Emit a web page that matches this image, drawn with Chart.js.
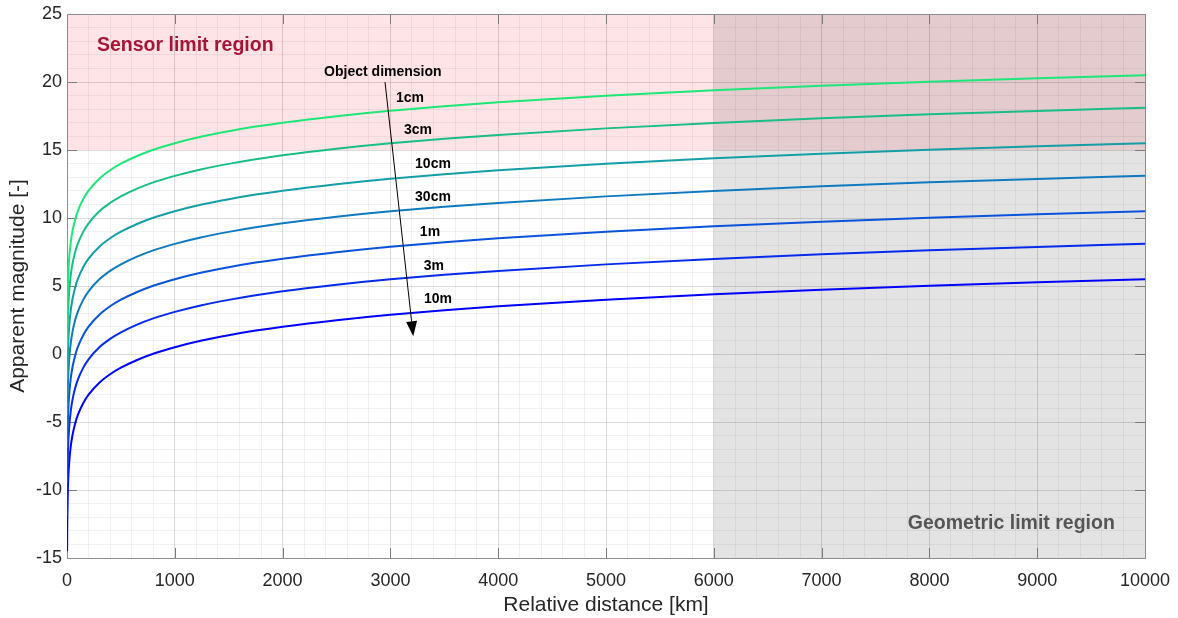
<!DOCTYPE html>
<html>
<head>
<meta charset="utf-8">
<style>
  html, body { margin: 0; padding: 0; background: #fff; }
  #wrap { width: 1178px; height: 618px; }
</style>
</head>
<body>
<div id="wrap"><canvas id="grafico"></canvas></div>

<script src="https://cdn.jsdelivr.net/npm/chart.js"></script>
<script>
  // distancias relativas [km] e magnitudes aparentes
  const distancias = [1, 2, 4, 7, 12, 20, 35, 50, 75, 100, 150, 200, 300, 400, 500, 650, 800, 1000, 1250, 1500, 1750, 2000, 2500, 3000, 3500, 4000, 5000, 6000, 7000, 8000, 9000, 10000];
  const dimensoes = ["1cm", "3cm", "10cm", "30cm", "1m", "3m", "10m"];
  const mag1cm  = [0.5, 2.01, 3.51, 4.73, 5.90, 7.01, 8.22, 8.99, 9.88, 10.5, 11.38, 12.01, 12.89, 13.51, 13.99, 14.56, 15.02, 15.5, 15.99, 16.38, 16.72, 17.01, 17.49, 17.89, 18.22, 18.51, 18.99, 19.39, 19.73, 20.02, 20.27, 20.5];
  const mag3cm  = [-1.9, -0.39, 1.11, 2.33, 3.50, 4.61, 5.82, 6.59, 7.48, 8.1, 8.98, 9.61, 10.49, 11.11, 11.59, 12.16, 12.62, 13.1, 13.59, 13.98, 14.32, 14.61, 15.09, 15.49, 15.82, 16.11, 16.59, 16.99, 17.33, 17.62, 17.87, 18.1];
  const mag10cm = [-4.5, -2.99, -1.49, -0.27, 0.90, 2.01, 3.22, 3.99, 4.88, 5.5, 6.38, 7.01, 7.89, 8.51, 8.99, 9.56, 10.02, 10.5, 10.99, 11.38, 11.72, 12.01, 12.49, 12.89, 13.22, 13.51, 13.99, 14.39, 14.73, 15.02, 15.27, 15.5];
  const mag30cm = [-6.9, -5.39, -3.89, -2.67, -1.50, -0.39, 0.82, 1.59, 2.48, 3.1, 3.98, 4.61, 5.49, 6.11, 6.59, 7.16, 7.62, 8.1, 8.59, 8.98, 9.32, 9.61, 10.09, 10.49, 10.82, 11.11, 11.59, 11.99, 12.33, 12.62, 12.87, 13.1];
  const mag1m   = [-9.5, -7.99, -6.49, -5.27, -4.10, -2.99, -1.78, -1.01, -0.12, 0.5, 1.38, 2.01, 2.89, 3.51, 3.99, 4.56, 5.02, 5.5, 5.99, 6.38, 6.72, 7.01, 7.49, 7.89, 8.22, 8.51, 8.99, 9.39, 9.73, 10.02, 10.27, 10.5];
  const mag3m   = [-11.9, -10.39, -8.89, -7.67, -6.50, -5.39, -4.18, -3.41, -2.52, -1.9, -1.02, -0.39, 0.49, 1.11, 1.59, 2.16, 2.62, 3.1, 3.59, 3.98, 4.32, 4.61, 5.09, 5.49, 5.82, 6.11, 6.59, 6.99, 7.33, 7.62, 7.87, 8.1];
  const mag10m  = [-14.5, -12.99, -11.49, -10.27, -9.10, -7.99, -6.78, -6.01, -5.12, -4.5, -3.62, -2.99, -2.11, -1.49, -1.01, -0.44, 0.02, 0.5, 0.99, 1.38, 1.72, 2.01, 2.49, 2.89, 3.22, 3.51, 3.99, 4.39, 4.73, 5.02, 5.27, 5.5];
  const series = [mag1cm, mag3cm, mag10cm, mag30cm, mag1m, mag3m, mag10m];

  // regioes limite
  const limiteSensor = 15;       // magnitude acima da qual o sensor nao ve
  const limiteGeometrico = 6000; // distancia [km]

  const cores = ["rgb(30,230,120)", "rgb(25,190,135)", "rgb(20,158,165)", "rgb(15,122,192)", "rgb(10,82,218)", "rgb(5,42,236)", "rgb(0,0,255)"];

  // posicoes dos rotulos (em coordenadas de dados)
  const rotulos = [
    { x: 3182, y: 18.8 }, { x: 3256, y: 16.45 }, { x: 3395, y: 13.95 }, { x: 3395, y: 11.5 },
    { x: 3367, y: 8.95 }, { x: 3404, y: 6.45 }, { x: 3442, y: 4.0 }
  ];

  const FONTE = "'Liberation Sans', Arial, sans-serif";
  const ctx = document.getElementById("grafico").getContext("2d");

  const regioes = {
    id: "regioes",
    beforeDraw(chart) {
      const { ctx, chartArea: a, scales: { x, y } } = chart;
      ctx.save();
      ctx.fillStyle = "rgba(255,40,60,0.125)";
      const yS = y.getPixelForValue(limiteSensor);
      ctx.fillRect(a.left, a.top, a.right - a.left, yS - a.top);
      ctx.fillStyle = "rgba(0,0,0,0.11)";
      const xG = x.getPixelForValue(limiteGeometrico);
      ctx.fillRect(xG, a.top, a.right - xG, a.bottom - a.top);
      ctx.restore();
    },
    beforeDatasetsDraw(chart) {
      const { ctx, chartArea: a, scales: { x, y } } = chart;
      ctx.save();
      ctx.strokeStyle = "#7a7a7a";
      ctx.lineWidth = 1;
      ctx.beginPath();
      x.ticks.filter(t => t.value % 1000 === 0).forEach(t => {
        const px = Math.round(x.getPixelForValue(t.value)) + 0.5;
        ctx.moveTo(px, a.bottom); ctx.lineTo(px, a.bottom - 10);
        ctx.moveTo(px, a.top); ctx.lineTo(px, a.top + 10);
      });
      y.ticks.filter(t => t.value % 5 === 0).forEach(t => {
        const py = Math.round(y.getPixelForValue(t.value)) + 0.5;
        ctx.moveTo(a.left, py); ctx.lineTo(a.left + 10, py);
        ctx.moveTo(a.right, py); ctx.lineTo(a.right - 10, py);
      });
      ctx.stroke();
      ctx.strokeStyle = "#8c8c8c";
      ctx.strokeRect(Math.round(a.left) + 0.5, Math.round(a.top) + 0.5, Math.round(a.right - a.left), Math.round(a.bottom - a.top));
      ctx.restore();
    },
    afterDatasetsDraw(chart) {
      const { ctx, scales: { x, y } } = chart;
      ctx.save();
      ctx.textBaseline = "middle";
      ctx.font = "bold 19.5px " + FONTE;
      ctx.fillStyle = "#a51536";
      ctx.textAlign = "left";
      ctx.fillText("Sensor limit region", x.getPixelForValue(278), y.getPixelForValue(22.65));
      ctx.fillStyle = "#555555";
      ctx.fillText("Geometric limit region", x.getPixelForValue(7800), y.getPixelForValue(-12.5));

      ctx.fillStyle = "#000";
      ctx.font = "bold 14px " + FONTE;
      ctx.textAlign = "center";
      ctx.fillText("Object dimension", x.getPixelForValue(2930), y.getPixelForValue(20.75));
      dimensoes.forEach((d, i) => {
        ctx.fillText(d, x.getPixelForValue(rotulos[i].x), y.getPixelForValue(rotulos[i].y));
      });

      // seta
      const x0 = x.getPixelForValue(2950), y0 = y.getPixelForValue(20.0);
      const x1 = x.getPixelForValue(3212), y1 = y.getPixelForValue(1.3);
      const ang = Math.atan2(y1 - y0, x1 - x0);
      const len = 15, w = 5.5;
      const bx = x1 - len * Math.cos(ang), by = y1 - len * Math.sin(ang);
      ctx.strokeStyle = "#000";
      ctx.lineWidth = 1;
      ctx.beginPath();
      ctx.moveTo(x0, y0); ctx.lineTo(bx, by);
      ctx.stroke();
      ctx.beginPath();
      ctx.moveTo(x1, y1);
      ctx.lineTo(bx + w * Math.sin(ang), by - w * Math.cos(ang));
      ctx.lineTo(bx - w * Math.sin(ang), by + w * Math.cos(ang));
      ctx.closePath();
      ctx.fill();
      ctx.restore();
    }
  };

  new Chart(ctx, {
    type: "line",
    data: {
      datasets: series.map((vals, i) => ({
        label: dimensoes[i],
        data: distancias.map((d, j) => ({ x: d, y: vals[j] })),
        borderColor: cores[i],
        borderWidth: 2,
        pointRadius: 0,
        fill: false,
        cubicInterpolationMode: "monotone"
      }))
    },
    options: {
      responsive: true,
      maintainAspectRatio: false,
      animation: false,
      layout: { padding: { left: 0, top: 14, right: 33, bottom: 0 } },
      plugins: {
        legend: { display: false },
        tooltip: { enabled: false }
      },
      scales: {
        x: {
          type: "linear",
          min: 0, max: 10000,
          afterFit: s => { s.height = 60; s.paddingLeft = 0; s.paddingRight = 0; },
          border: { display: false },
          grid: {
            drawTicks: false,
            color: c => c.tick.value % 1000 === 0 ? "rgba(0,0,0,0.14)" : "rgba(0,0,0,0.055)"
          },
          ticks: {
            stepSize: 200,
            autoSkip: false,
            maxRotation: 0,
            padding: 12,
            color: "#262626",
            font: { family: FONTE, size: 18 },
            callback: v => v % 1000 === 0 ? v : ""
          },
          title: {
            display: true,
            text: "Relative distance [km]",
            color: "#262626",
            padding: { top: 0, bottom: 0 },
            font: { family: FONTE, size: 21 }
          }
        },
        y: {
          min: -15, max: 25,
          afterFit: s => { s.width = 67; s.paddingTop = 0; s.paddingBottom = 0; },
          border: { display: false },
          grid: {
            drawTicks: false,
            color: c => c.tick.value % 5 === 0 ? "rgba(0,0,0,0.14)" : "rgba(0,0,0,0.055)"
          },
          ticks: {
            stepSize: 1,
            autoSkip: false,
            padding: 5,
            color: "#262626",
            font: { family: FONTE, size: 18 },
            callback: v => v % 5 === 0 ? v : ""
          },
          title: {
            display: true,
            text: "Apparent magnitude [-]",
            color: "#262626",
            padding: { top: 6, bottom: 0 },
            font: { family: FONTE, size: 21 }
          }
        }
      }
    },
    plugins: [regioes]
  });
</script>
</body>
</html>
